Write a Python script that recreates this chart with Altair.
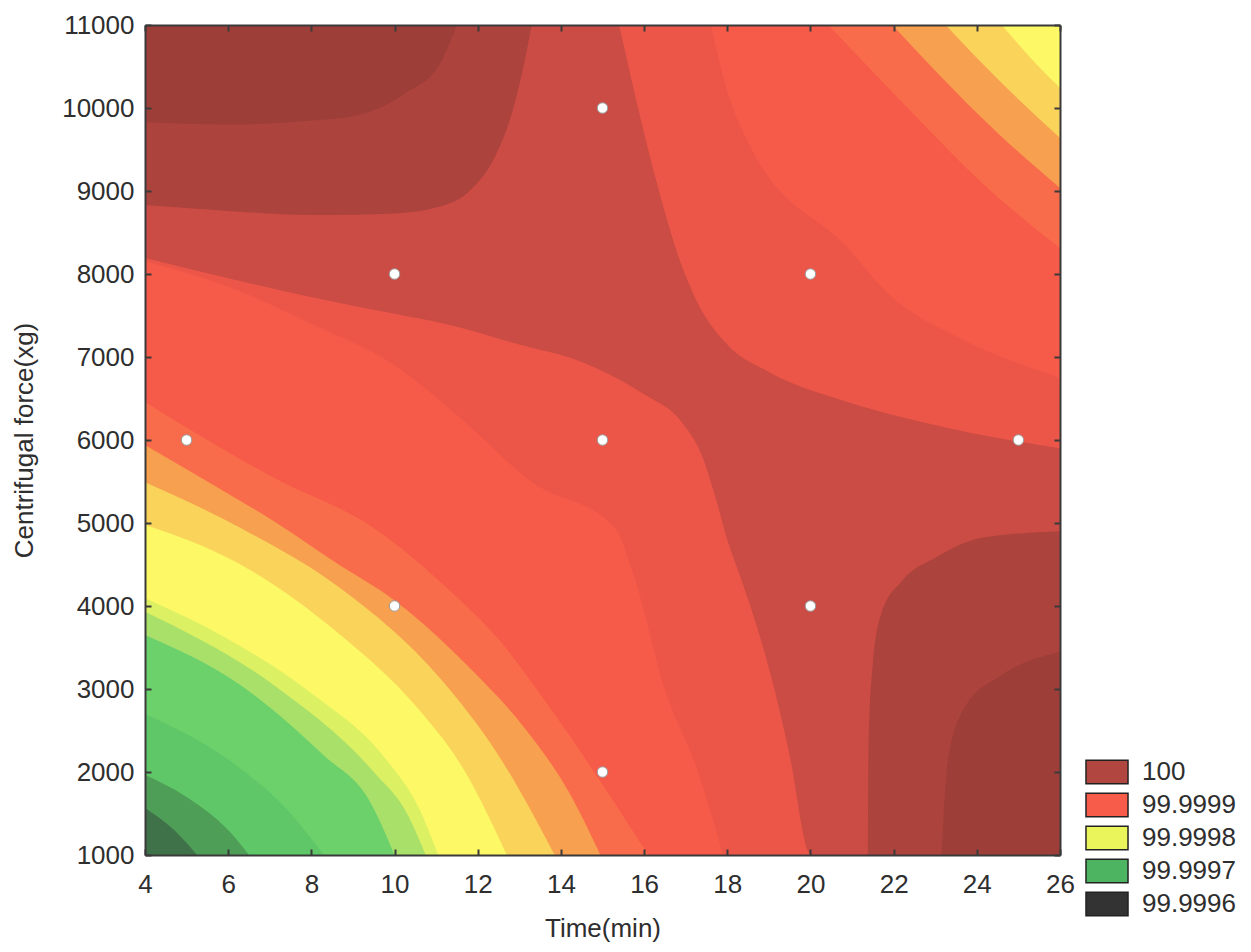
import altair as alt
import pandas as pd

# ---------------- axes ----------------
time_ticks = [4, 6, 8, 10, 12, 14, 16, 18, 20, 22, 24, 26]
force_ticks = [1000, 2000, 3000, 4000, 5000, 6000, 7000, 8000, 9000, 10000, 11000]
T_MIN, T_MAX = 4, 26
F_MIN, F_MAX = 1000, 11000

# ---------------- design points (white dots) ----------------
design_time = [5, 10, 10, 15, 15, 15, 20, 20, 25]
design_force = [6000, 4000, 8000, 2000, 6000, 10000, 4000, 8000, 6000]

# ---------------- legend ----------------
legend_labels = ["100", "99.9999", "99.9998", "99.9997", "99.9996"]
legend_colors = ["#B0463F", "#F75B49", "#EAF55C", "#4DB461", "#333333"]

# ---------------- contour boundaries (time, force) ----------------
# top-left high region (filled from boundary up to the top edge)
tl_c1_t = [4, 6, 8, 10, 11, 11.8, 12.4, 12.8, 13.1, 13.3]
tl_c1_f = [8830, 8760, 8710, 8730, 8800, 9000, 9400, 9900, 10500, 11000]
tl_c0_t = [4, 6, 8, 9, 10.3, 11.08, 11.5]
tl_c0_f = [9830, 9800, 9850, 9900, 10190, 10520, 11000]

# bottom-right high region (filled from bottom edge up to boundary)
br_c1_t = [21.38, 21.4, 21.5, 21.7, 22.2, 23.0, 24.1, 26]
br_c1_f = [1000, 2400, 3300, 3900, 4300, 4580, 4820, 4900]
br_c0_t = [23.15, 23.3, 23.7, 24.6, 26]
br_c0_f = [1000, 2120, 2770, 3170, 3446]

# top-right lower bands (filled from boundary up to the top edge)
tr_c3_t = [15.4, 15.8, 16.3, 16.9, 17.24, 18.0, 19.0, 20.9, 23.3, 26]
tr_c3_f = [11000, 10120, 9108, 8108, 7700, 7150, 6820, 6457, 6145, 5900]
tr_c4_t = [17.6, 18.0, 18.5, 20.9, 21.9, 23.5, 26]
tr_c4_f = [11000, 10200, 9590, 8313, 7747, 7250, 6750]
tr_c5_t = [20.43, 22.5, 24.1, 26]
tr_c5_f = [11000, 9916, 9108, 8313]
tr_c6_t = [21.97, 23.0, 24.5, 26]
tr_c6_f = [11000, 10450, 9700, 9036]
tr_c7_t = [23.25, 24.5, 26]
tr_c7_f = [11000, 10350, 9640]
tr_c8_t = [24.6, 25.3, 26]
tr_c8_f = [11000, 10600, 10240]

# lower-left bands (filled from bottom edge up to boundary)
ll_c3_t = [4, 6, 8.68, 10, 11.32, 13, 14.5, 16, 16.9, 17.4, 17.7, 18.0, 18.35, 18.7, 19.0, 19.5, 19.95, 20.0]
ll_c3_f = [8193, 7950, 7650, 7520, 7386, 7150, 6940, 6550, 6217, 5800, 5337, 4800, 4300, 3771, 3253, 2200, 1036, 1000]
ll_c4_t = [4, 6, 8, 10, 11.5, 13.3, 15.3, 15.75, 16.5, 17.3, 17.9]
ll_c4_f = [8150, 7850, 7400, 6900, 6300, 5494, 4940, 4373, 3000, 2000, 1000]
ll_c5_t = [4, 5.5, 7.1, 9.5, 11.3, 12.5, 13.7, 15.0, 16.1]
ll_c5_f = [6457, 6000, 5544, 4940, 4200, 3600, 2800, 1850, 1000]
ll_c6_t = [4, 5.5, 7.1, 8.5, 10.04, 11.9, 13.14, 14.2, 14.95]
ll_c6_f = [5940, 5500, 5020, 4550, 4050, 3207, 2522, 1750, 1000]
ll_c7_t = [4, 6.3, 8.7, 11.1, 12.5, 13.85]
ll_c7_f = [5490, 4940, 4214, 3126, 2200, 1000]
ll_c8_t = [4, 6.3, 8.7, 10.5, 11.7, 12.7]
ll_c8_f = [4980, 4500, 3650, 2800, 2000, 1000]
ll_c9_t = [4, 6, 8, 9.8, 10.6, 11.05]
ll_c9_f = [4093, 3600, 2950, 2150, 1550, 1000]
ll_c10_t = [4, 7.1, 9.5, 10.3, 10.75]
ll_c10_f = [3932, 3045, 2000, 1500, 1000]
ll_c11_t = [4, 6.3, 8.3, 9.4, 10.0]
ll_c11_f = [3650, 3045, 2200, 1650, 1000]
ll_c12_t = [4, 6, 7.5, 8.3]
ll_c12_f = [2700, 2150, 1500, 1000]
ll_c13_t = [4, 5, 6, 6.5]
ll_c13_f = [1964, 1700, 1300, 1000]
ll_c14_t = [4, 4.7, 5.25]
ll_c14_f = [1566, 1300, 1000]

# ---------------- band colours ----------------
band_colors = {
    "c0": "#9D3E39", "c1": "#AC433D", "c2": "#CA4C44", "c3": "#EC5648",
    "c4": "#F65A48", "c5": "#F86C4B", "c6": "#F7A04F", "c7": "#FAD35B",
    "c8": "#FCF866", "c9": "#DCF063", "c10": "#A8E06A", "c11": "#6CD16B",
    "c12": "#5FC767", "c13": "#4E9E58", "c14": "#3F7249",
}

# drawing order: (band key, side, times, forces)
layers_spec = [
    ("c1", "top", tl_c1_t, tl_c1_f),
    ("c0", "top", tl_c0_t, tl_c0_f),
    ("c1", "bottom", br_c1_t, br_c1_f),
    ("c0", "bottom", br_c0_t, br_c0_f),
    ("c3", "top", tr_c3_t, tr_c3_f),
    ("c4", "top", tr_c4_t, tr_c4_f),
    ("c5", "top", tr_c5_t, tr_c5_f),
    ("c6", "top", tr_c6_t, tr_c6_f),
    ("c7", "top", tr_c7_t, tr_c7_f),
    ("c8", "top", tr_c8_t, tr_c8_f),
    ("c3", "bottom", ll_c3_t, ll_c3_f),
    ("c4", "bottom", ll_c4_t, ll_c4_f),
    ("c5", "bottom", ll_c5_t, ll_c5_f),
    ("c6", "bottom", ll_c6_t, ll_c6_f),
    ("c7", "bottom", ll_c7_t, ll_c7_f),
    ("c8", "bottom", ll_c8_t, ll_c8_f),
    ("c9", "bottom", ll_c9_t, ll_c9_f),
    ("c10", "bottom", ll_c10_t, ll_c10_f),
    ("c11", "bottom", ll_c11_t, ll_c11_f),
    ("c12", "bottom", ll_c12_t, ll_c12_f),
    ("c13", "bottom", ll_c13_t, ll_c13_f),
    ("c14", "bottom", ll_c14_t, ll_c14_f),
]

FONT = "Liberation Sans"
TEXT_COLOR = "#2e2e2e"
FRAME_COLOR = "#3a3a3a"

xscale = alt.Scale(domain=[T_MIN, T_MAX], nice=False, zero=False)
yscale = alt.Scale(domain=[F_MIN, F_MAX], nice=False, zero=False)

color_domain = list(band_colors.keys()) + legend_labels
color_range = list(band_colors.values()) + legend_colors
cscale = alt.Scale(domain=color_domain, range=color_range)

legend = alt.Legend(
    title=None,
    values=legend_labels,
    orient="none",
    legendX=949,
    legendY=734,
    symbolType="M-1.8,-1L1.8,-1L1.8,1L-1.8,1Z",
    symbolSize=545,
    symbolStrokeColor="#222222",
    symbolStrokeWidth=1.5,
    symbolOpacity=1,
    labelFont=FONT,
    labelFontSize=26,
    labelColor=TEXT_COLOR,
    labelOffset=22,
    rowPadding=3,
    padding=0,
)

area_layers = []
for key, side, ts, fs in layers_spec:
    if side == "top":
        df = pd.DataFrame({"t": ts, "lo": fs, "hi": [F_MAX] * len(ts), "band": key})
    else:
        df = pd.DataFrame({"t": ts, "lo": [F_MIN] * len(ts), "hi": fs, "band": key})
    area_layers.append(
        alt.Chart(df).mark_area(interpolate="monotone", orient="vertical", clip=True, opacity=1).encode(
            x=alt.X("t:Q", scale=xscale, axis=None),
            y=alt.Y("lo:Q", scale=yscale, axis=None, stack=None),
            y2="hi:Q",
            color=alt.Color("band:N", scale=cscale, legend=legend),
        )
    )

pts = pd.DataFrame({"t": design_time, "f": design_force})

main_layer = alt.Chart(pts).mark_circle(size=110, color="white", stroke="#9a9a9a", strokeWidth=1, opacity=1).encode(
    x=alt.X("t:Q", scale=xscale, axis=alt.Axis(
        orient="bottom", values=time_ticks, format="d", title="Time(min)",
        ticks=False, domain=True, domainColor=FRAME_COLOR, domainWidth=2, grid=False,
        labelFont=FONT, labelFontSize=26, labelColor=TEXT_COLOR, labelPadding=16,
        titleFont=FONT, titleFontSize=26, titleFontWeight="normal", titleColor=TEXT_COLOR,
        titlePadding=18, zindex=1, labelFlush=False)),
    y=alt.Y("f:Q", scale=yscale, axis=alt.Axis(
        orient="left", values=force_ticks, format="d", title="Centrifugal force(xg)",
        ticks=False, domain=True, domainColor=FRAME_COLOR, domainWidth=2, grid=False,
        labelFont=FONT, labelFontSize=26, labelColor=TEXT_COLOR, labelPadding=11,
        titleFont=FONT, titleFontSize=26, titleFontWeight="normal", titleColor=TEXT_COLOR,
        titlePadding=24, zindex=1, labelFlush=False)),
)

frame_layer = alt.Chart(pts).mark_point(opacity=0).encode(
    x=alt.X("t:Q", scale=xscale, axis=alt.Axis(
        orient="top", values=time_ticks, labels=False, ticks=False, domain=True,
        domainColor=FRAME_COLOR, domainWidth=2, grid=False, title=None, zindex=1)),
    y=alt.Y("f:Q", scale=yscale, axis=alt.Axis(
        orient="right", values=force_ticks, labels=False, ticks=False, domain=True,
        domainColor=FRAME_COLOR, domainWidth=2, grid=False, title=None, zindex=1)),
)

tick_a = alt.Chart(pts).mark_point(opacity=0).encode(
    x=alt.X("t:Q", scale=xscale, axis=alt.Axis(
        orient="bottom", values=time_ticks, labels=False, ticks=True, tickSize=6,
        tickWidth=2, tickColor=FRAME_COLOR, offset=-6, domain=False, grid=False,
        title=None, zindex=1)),
    y=alt.Y("f:Q", scale=yscale, axis=alt.Axis(
        orient="left", values=force_ticks, labels=False, ticks=True, tickSize=6,
        tickWidth=2, tickColor=FRAME_COLOR, offset=-6, domain=False, grid=False,
        title=None, zindex=1)),
)

tick_b = alt.Chart(pts).mark_point(opacity=0).encode(
    x=alt.X("t:Q", scale=xscale, axis=alt.Axis(
        orient="top", values=time_ticks, labels=False, ticks=True, tickSize=6,
        tickWidth=2, tickColor=FRAME_COLOR, offset=-6, domain=False, grid=False,
        title=None, zindex=1)),
    y=alt.Y("f:Q", scale=yscale, axis=alt.Axis(
        orient="right", values=force_ticks, labels=False, ticks=True, tickSize=6,
        tickWidth=2, tickColor=FRAME_COLOR, offset=-6, domain=False, grid=False,
        title=None, zindex=1)),
)

chart = alt.layer(*area_layers, main_layer, frame_layer, tick_a, tick_b).resolve_axis(
    x="independent", y="independent"
).properties(
    width=915,
    height=830,
    autosize=alt.AutoSizeParams(type="none"),
    padding={"left": 137, "top": 17, "right": 180, "bottom": 89},
    background="white",
).configure_view(
    fill=band_colors["c2"],
    stroke="transparent",
)

chart.save("out.html", embed_options={"renderer": "svg", "actions": False})
